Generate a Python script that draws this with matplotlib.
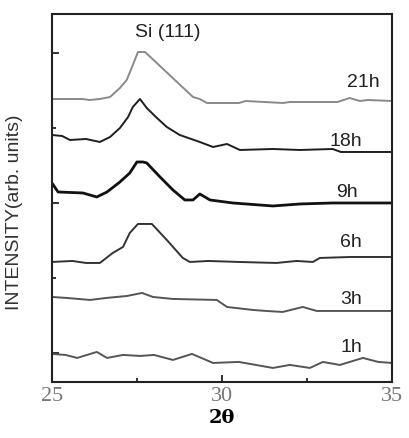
import numpy as np
import matplotlib
matplotlib.use('Agg')
import matplotlib.pyplot as plt
from matplotlib.ticker import FixedLocator

# XRD patterns, 2theta vs intensity (arb. units, stacked)
tt_21h = [25.0, 25.9, 26.1, 26.41, 26.71, 27.0, 27.2, 27.38, 27.53, 27.74, 29.15, 29.35, 29.56,
          30.5, 30.7, 31.8, 32.0, 33.4, 33.76, 34.06, 34.3, 35.0]
i_21h = [283, 283, 282, 283, 285, 294, 302, 317, 330, 330, 285, 283, 279,
         279, 281, 279, 280, 280, 284, 281, 282, 281]

tt_18h = [25.0, 25.3, 25.53, 26.0, 26.41, 26.71, 27.0, 27.24, 27.38, 27.59, 27.79, 28.09, 28.38,
          28.76, 29.35, 29.74, 30.15, 30.53, 31.5, 32.29, 33.26, 33.5, 35.0]
i_18h = [247, 246, 242, 243, 240, 245, 254, 265, 275, 283, 274, 264, 255,
         247, 240, 235, 238, 232, 233, 232, 233, 230, 230]

tt_9h = [25.0, 25.18, 25.91, 26.32, 26.62, 27.0, 27.29, 27.5, 27.68, 27.79, 28.18, 28.56, 28.91,
         29.15, 29.35, 29.65, 30.32, 31.5, 32.3, 33.26, 35.0]
i_9h = [199, 190, 189, 185, 190, 200, 209, 220, 220, 219, 205, 192, 182,
        182, 188, 182, 179, 176, 178, 179, 179]

tt_6h = [25.0, 25.6, 26.0, 26.41, 26.79, 27.09, 27.29, 27.53, 27.94, 28.38, 28.85, 29.06, 29.6,
         30.5, 31.6, 32.2, 32.68, 32.88, 33.8, 35.0]
i_6h = [120, 121, 119, 119, 129, 135, 149, 158, 158, 142, 124, 120, 121,
        120, 119, 121, 120, 124, 125, 125]

tt_3h = [25.0, 25.44, 26.12, 26.6, 27.21, 27.65, 27.97, 28.56, 29.85, 30.15, 30.91, 31.3, 31.79,
         32.38, 32.79, 35.0]
i_3h = [85, 84, 82, 84, 86, 89, 85, 83, 82, 75, 72, 71, 70, 75, 71, 71]

tt_1h = [25.0, 25.4, 25.74, 26.32, 26.62, 27.09, 27.6, 28.0, 28.56, 29.12, 29.74, 30.5, 31.5,
         32.0, 32.59, 32.97, 33.47, 34.15, 34.6, 35.0]
i_1h = [28, 27, 24, 30, 24, 27, 26, 27, 22, 28, 19, 20, 14, 17, 14, 20, 17, 24, 20, 19]

curves = [
    ('21h', tt_21h, i_21h, '#8a8a8a', 1.4, 300),
    ('18h', tt_18h, i_18h, '#1e1e1e', 1.4, 240),
    ('9h', tt_9h, i_9h, '#111111', 2.0, 189),
    ('6h', tt_6h, i_6h, '#333333', 1.4, 139),
    ('3h', tt_3h, i_3h, '#555555', 1.4, 82),
    ('1h', tt_1h, i_1h, '#555555', 1.4, 34),
]
label_x = [34.65, 34.12, 34.0, 34.12, 34.12, 34.12]

fig = plt.figure(figsize=(4.09, 4.38), dpi=100)
ax = fig.add_axes([0.127, 0.128, 0.831, 0.840])

for (name, x, y, c, lw, ly), lx in zip(curves, label_x):
    ax.plot(x, y, color=c, lw=lw)
    ax.text(lx, ly, name, ha='right', va='center', fontsize=14,
            family='Liberation Sans', color='#222222')

ax.text(28.4, 350, 'Si (111)', ha='center', va='center', fontsize=14,
        family='Liberation Sans', color='#222222')

ax.set_xlim(25, 35)
ax.set_ylim(0, 368)
ax.set_xticks([25, 30, 35])
ax.xaxis.set_minor_locator(FixedLocator([27.5, 32.5]))
ax.yaxis.set_major_locator(FixedLocator([29, 179, 329]))
ax.yaxis.set_minor_locator(FixedLocator([104, 254]))
ax.set_yticklabels([])
ax.tick_params(which='both', direction='in', color='#222222')
ax.tick_params(which='major', length=5, width=1.3)
ax.tick_params(which='minor', length=3, width=1.3)
ax.tick_params(axis='x', labelsize=16, labelcolor='#777777', pad=4)
for lab in ax.get_xticklabels():
    lab.set_family('Liberation Serif')
for s in ax.spines.values():
    s.set_linewidth(1.5)
    s.set_color('#222222')

ax.set_xlabel('2θ', fontsize=14, fontweight='bold', family='DejaVu Serif', labelpad=2)
ax.set_ylabel('INTENSITY(arb. units)', fontsize=14, family='Liberation Sans',
              color='#333333')
ax.yaxis.set_label_coords(-0.085, 0.46)

fig.savefig('out.png', dpi=100)
